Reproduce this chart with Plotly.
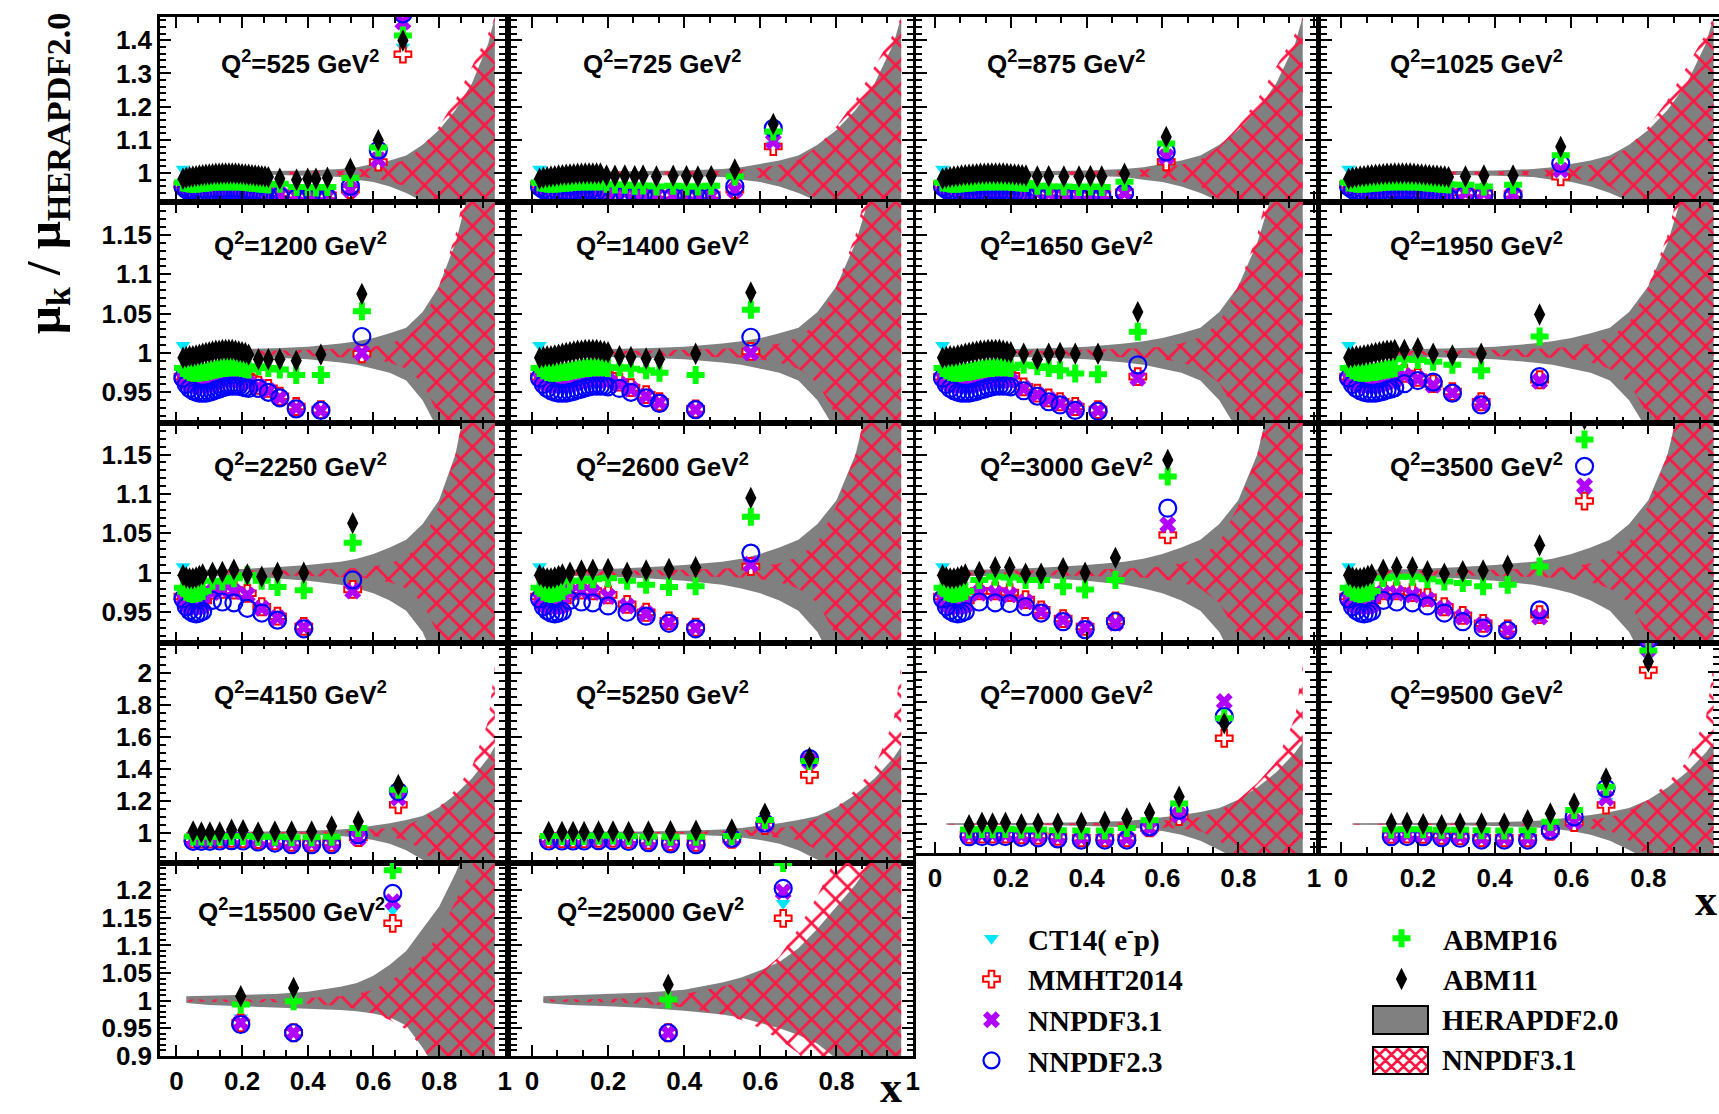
import plotly.graph_objects as go

W, H = 1719, 1114

# ---------------- data: x positions and ratios per Q^2 panel ----------------
Q2_LABELS = ["525", "725", "875", "1025", "1200", "1400", "1650", "1950",
             "2250", "2600", "3000", "3500", "4150", "5250", "7000", "9500",
             "15500", "25000"]

# dense low-x points, rows Q2 = 525..1025
DX_R1 = [0.02, 0.03, 0.04, 0.05, 0.06, 0.07, 0.08, 0.09, 0.10, 0.11, 0.12, 0.13, 0.14, 0.15,
         0.16, 0.17, 0.18, 0.19, 0.20, 0.21, 0.22, 0.23, 0.24, 0.25, 0.26, 0.27, 0.28]
DAB_R1 = [0.983, 0.986, 0.988, 0.990, 0.991, 0.993, 0.994, 0.995, 0.996, 0.997, 0.998, 0.998, 0.999, 0.999,
          0.999, 0.999, 0.999, 0.998, 0.997, 0.996, 0.995, 0.994, 0.993, 0.992, 0.991, 0.990, 0.988]
DAP_R1 = [0.972, 0.970, 0.968, 0.968, 0.968, 0.969, 0.970, 0.971, 0.972, 0.973, 0.974, 0.975, 0.975, 0.975,
          0.975, 0.975, 0.975, 0.975, 0.974, 0.973, 0.972, 0.971, 0.970, 0.969, 0.968, 0.967, 0.966]
DN31_R1 = [0.960, 0.955, 0.952, 0.950, 0.948, 0.947, 0.947, 0.947, 0.948, 0.949, 0.950, 0.951, 0.952, 0.952,
           0.952, 0.952, 0.951, 0.950, 0.949, 0.948, 0.946, 0.944, 0.942, 0.940, 0.938, 0.936, 0.934]
DN23_R1 = [0.958, 0.950, 0.945, 0.942, 0.940, 0.939, 0.938, 0.938, 0.939, 0.940, 0.941, 0.942, 0.943, 0.944,
           0.944, 0.944, 0.943, 0.942, 0.941, 0.940, 0.938, 0.936, 0.934, 0.932, 0.930, 0.928, 0.926]
DMM_R1 = [0.965, 0.961, 0.958, 0.956, 0.955, 0.955, 0.955, 0.956, 0.957, 0.958, 0.959, 0.960, 0.960, 0.960,
          0.960, 0.960, 0.959, 0.958, 0.957, 0.956, 0.954, 0.952, 0.950, 0.948, 0.946, 0.944, 0.942]
DCT_R1 = [1.012, 1.000, 0.990, 0.982, 0.975, 0.971, 0.968, 0.966, 0.965, 0.965, 0.965, 0.966, 0.966, 0.967,
          0.967, 0.967, 0.966, 0.965, 0.964, 0.963, 0.961, 0.959, 0.958, 0.956, 0.955, 0.952, 0.950]

# dense low-x points, rows Q2 = 1200..1950
DX_R2 = [0.02, 0.03, 0.04, 0.05, 0.06, 0.07, 0.08, 0.09, 0.10, 0.11, 0.12, 0.13, 0.14, 0.15,
         0.16, 0.17, 0.18, 0.19, 0.20, 0.21, 0.22]
DAB_R2 = [0.994, 0.995, 0.996, 0.996, 0.997, 0.998, 0.999, 1.000, 1.001, 1.002, 1.003, 1.003, 1.004, 1.004,
          1.004, 1.004, 1.003, 1.002, 1.001, 1.000, 0.998]
DAP_R2 = [0.981, 0.978, 0.976, 0.975, 0.975, 0.975, 0.976, 0.976, 0.977, 0.978, 0.979, 0.980, 0.981, 0.981,
          0.982, 0.982, 0.982, 0.982, 0.981, 0.980, 0.979]
DN31_R2 = [0.968, 0.964, 0.961, 0.959, 0.958, 0.958, 0.958, 0.959, 0.960, 0.961, 0.963, 0.964, 0.966, 0.966,
           0.967, 0.967, 0.966, 0.965, 0.964, 0.963, 0.961]
DN23_R2 = [0.968, 0.960, 0.955, 0.952, 0.950, 0.949, 0.949, 0.949, 0.950, 0.951, 0.953, 0.954, 0.956, 0.957,
           0.958, 0.958, 0.958, 0.958, 0.957, 0.956, 0.955]
DMM_R2 = [0.970, 0.968, 0.966, 0.965, 0.964, 0.964, 0.965, 0.966, 0.967, 0.968, 0.970, 0.971, 0.973, 0.973,
          0.974, 0.974, 0.973, 0.972, 0.971, 0.970, 0.968]
DCT_R2 = [1.010, 0.995, 0.985, 0.978, 0.972, 0.970, 0.968, 0.968, 0.968, 0.969, 0.970, 0.971, 0.972, 0.973,
          0.973, 0.973, 0.972, 0.971, 0.970, 0.969, 0.967]

# dense low-x points, rows Q2 = 2250..3500
DX_R3 = [0.02, 0.03, 0.04, 0.05, 0.06, 0.07, 0.08]
DAB_R3 = [0.997, 0.994, 0.993, 0.993, 0.994, 0.996, 0.998]
DAP_R3 = [0.981, 0.976, 0.974, 0.973, 0.974, 0.975, 0.977]
DN31_R3 = [0.967, 0.961, 0.958, 0.956, 0.956, 0.957, 0.959]
DN23_R3 = [0.967, 0.957, 0.952, 0.949, 0.948, 0.949, 0.951]
DMM_R3 = [0.970, 0.966, 0.963, 0.962, 0.962, 0.963, 0.965]
DCT_R3 = [1.008, 0.990, 0.975, 0.968, 0.966, 0.966, 0.967]

# number of dense points shown in each panel (rows 1-3)
N_DENSE = {"525": 27, "725": 17, "875": 23, "1025": 27,
           "1200": 21, "1400": 19, "1650": 19, "1950": 13,
           "2250": 7, "2600": 7, "3000": 7, "3500": 7}

# higher-x points of every panel
X_525 = [0.315, 0.366, 0.40, 0.425, 0.46, 0.53, 0.615, 0.69]
CT_525 = [0.940, 0.934, 0.932, 0.932, 0.932, 0.940, 1.040, 1.380]
MM_525 = [0.940, 0.935, 0.933, 0.933, 0.933, 0.950, 1.033, 1.358]
N31_525 = [0.936, 0.932, 0.930, 0.930, 0.930, 0.950, 1.040, 1.455]
N23_525 = [0.930, 0.925, 0.925, 0.926, 0.926, 0.960, 1.069, 1.479]
AP_525 = [0.968, 0.958, 0.958, 0.957, 0.958, 0.985, 1.077, 1.414]
AB_525 = [0.983, 0.980, 0.983, 0.983, 0.986, 1.013, 1.099, 1.399]

X_725 = [0.196, 0.218, 0.244, 0.27, 0.292, 0.327, 0.371, 0.406, 0.436, 0.471, 0.533, 0.634]
CT_725 = [0.947, 0.945, 0.942, 0.939, 0.938, 0.936, 0.934, 0.934, 0.933, 0.933, 0.945, 1.085]
MM_725 = [0.948, 0.946, 0.943, 0.940, 0.939, 0.937, 0.935, 0.935, 0.934, 0.934, 0.950, 1.080]
N31_725 = [0.945, 0.943, 0.940, 0.938, 0.937, 0.935, 0.933, 0.933, 0.932, 0.932, 0.948, 1.095]
N23_725 = [0.940, 0.938, 0.936, 0.934, 0.933, 0.930, 0.929, 0.929, 0.928, 0.928, 0.960, 1.135]
AP_725 = [0.968, 0.966, 0.965, 0.962, 0.963, 0.960, 0.962, 0.960, 0.960, 0.962, 0.990, 1.125]
AB_725 = [0.993, 0.992, 0.993, 0.991, 0.993, 0.990, 0.992, 0.991, 0.990, 0.991, 1.011, 1.148]

X_875 = [0.27, 0.30, 0.34, 0.38, 0.41, 0.44, 0.50, 0.61]
CT_875 = [0.941, 0.939, 0.937, 0.936, 0.936, 0.935, 0.938, 1.040]
MM_875 = [0.942, 0.940, 0.938, 0.937, 0.937, 0.936, 0.942, 1.034]
N31_875 = [0.940, 0.938, 0.936, 0.935, 0.935, 0.934, 0.940, 1.049]
N23_875 = [0.936, 0.933, 0.931, 0.930, 0.930, 0.930, 0.940, 1.064]
AP_875 = [0.962, 0.960, 0.960, 0.958, 0.960, 0.958, 0.974, 1.089]
AB_875 = [0.990, 0.991, 0.990, 0.990, 0.991, 0.990, 0.998, 1.109]

X_1025 = [0.324, 0.372, 0.448, 0.572]
CT_1025 = [0.941, 0.940, 0.936, 0.990]
MM_1025 = [0.942, 0.941, 0.937, 0.989]
N31_1025 = [0.940, 0.940, 0.936, 1.009]
N23_1025 = [0.936, 0.934, 0.930, 1.029]
AP_1025 = [0.965, 0.960, 0.965, 1.054]
AB_1025 = [0.990, 0.993, 0.993, 1.079]

X_1200 = [0.25, 0.28, 0.315, 0.365, 0.44, 0.565]
CT_1200 = [0.958, 0.953, 0.944, 0.931, 0.926, 0.997]
MM_1200 = [0.959, 0.955, 0.945, 0.932, 0.928, 0.999]
N31_1200 = [0.957, 0.952, 0.943, 0.930, 0.927, 1.000]
N23_1200 = [0.955, 0.950, 0.943, 0.929, 0.927, 1.021]
AP_1200 = [0.983, 0.981, 0.979, 0.972, 0.972, 1.053]
AB_1200 = [0.992, 0.992, 0.992, 0.990, 0.998, 1.075]

X_1400 = [0.23, 0.26, 0.30, 0.335, 0.43, 0.575]
CT_1400 = [0.962, 0.955, 0.946, 0.937, 0.928, 1.000]
MM_1400 = [0.963, 0.956, 0.947, 0.938, 0.929, 1.002]
N31_1400 = [0.960, 0.954, 0.945, 0.937, 0.928, 1.000]
N23_1400 = [0.955, 0.950, 0.943, 0.936, 0.928, 1.020]
AP_1400 = [0.982, 0.980, 0.978, 0.975, 0.972, 1.055]
AB_1400 = [0.996, 0.995, 0.993, 0.992, 0.999, 1.077]

X_1650 = [0.234, 0.27, 0.30, 0.33, 0.37, 0.43, 0.535]
CT_1650 = [0.956, 0.948, 0.942, 0.937, 0.931, 0.926, 0.966]
MM_1650 = [0.957, 0.949, 0.943, 0.938, 0.932, 0.928, 0.970]
N31_1650 = [0.955, 0.947, 0.941, 0.936, 0.930, 0.927, 0.968]
N23_1650 = [0.952, 0.945, 0.938, 0.934, 0.927, 0.926, 0.985]
AP_1650 = [0.985, 0.983, 0.981, 0.978, 0.974, 0.973, 1.027]
AB_1650 = [0.999, 0.992, 0.999, 1.000, 0.999, 0.999, 1.052]

X_1950 = [0.165, 0.20, 0.24, 0.29, 0.365, 0.517]
CT_1950 = [0.972, 0.968, 0.960, 0.950, 0.937, 0.962]
MM_1950 = [0.974, 0.969, 0.961, 0.951, 0.938, 0.966]
N31_1950 = [0.971, 0.967, 0.959, 0.949, 0.936, 0.964]
N23_1950 = [0.961, 0.965, 0.963, 0.949, 0.934, 0.970]
AP_1950 = [0.992, 0.991, 0.989, 0.985, 0.978, 1.021]
AB_1950 = [1.004, 1.006, 0.999, 0.997, 0.999, 1.049]

X_2250 = [0.11, 0.14, 0.175, 0.216, 0.26, 0.308, 0.388, 0.537]
CT_2250 = [0.977, 0.978, 0.977, 0.973, 0.956, 0.944, 0.930, 0.975]
MM_2250 = [0.978, 0.979, 0.978, 0.974, 0.957, 0.945, 0.932, 0.979]
N31_2250 = [0.975, 0.977, 0.976, 0.972, 0.955, 0.943, 0.931, 0.977]
N23_2250 = [0.965, 0.963, 0.962, 0.955, 0.949, 0.940, 0.929, 0.991]
AP_2250 = [0.990, 0.989, 0.993, 0.997, 0.990, 0.982, 0.978, 1.038]
AB_2250 = [1.000, 1.001, 1.004, 0.998, 0.995, 1.000, 1.000, 1.063]

X_2600 = [0.10, 0.13, 0.16, 0.20, 0.25, 0.30, 0.36, 0.43, 0.575]
CT_2600 = [0.977, 0.977, 0.976, 0.971, 0.959, 0.949, 0.938, 0.930, 1.005]
MM_2600 = [0.978, 0.978, 0.977, 0.972, 0.960, 0.950, 0.939, 0.931, 1.008]
N31_2600 = [0.975, 0.976, 0.975, 0.970, 0.958, 0.948, 0.937, 0.930, 1.011]
N23_2600 = [0.965, 0.963, 0.962, 0.958, 0.950, 0.945, 0.936, 0.929, 1.025]
AP_2600 = [0.990, 0.990, 0.992, 0.993, 0.990, 0.985, 0.982, 0.983, 1.071]
AB_2600 = [1.000, 1.003, 1.004, 1.005, 1.000, 1.003, 1.005, 1.007, 1.095]

X_3000 = [0.117, 0.159, 0.197, 0.239, 0.28, 0.338, 0.396, 0.476, 0.614]
CT_3000 = [0.976, 0.976, 0.974, 0.965, 0.952, 0.941, 0.931, 0.937, 1.050]
MM_3000 = [0.977, 0.977, 0.975, 0.966, 0.953, 0.942, 0.932, 0.939, 1.048]
N31_3000 = [0.974, 0.974, 0.972, 0.963, 0.951, 0.940, 0.930, 0.936, 1.061]
N23_3000 = [0.963, 0.962, 0.961, 0.957, 0.949, 0.938, 0.928, 0.938, 1.082]
AP_3000 = [0.991, 0.995, 0.994, 0.991, 0.991, 0.983, 0.979, 0.991, 1.122]
AB_3000 = [1.001, 1.007, 1.007, 0.999, 0.999, 1.006, 1.000, 1.019, 1.143]

X_3500 = [0.11, 0.145, 0.186, 0.225, 0.269, 0.317, 0.37, 0.434, 0.517, 0.634]
CT_3500 = [0.976, 0.976, 0.974, 0.968, 0.956, 0.945, 0.935, 0.928, 0.945, 1.100]
MM_3500 = [0.977, 0.977, 0.975, 0.969, 0.957, 0.946, 0.936, 0.929, 0.947, 1.091]
N31_3500 = [0.974, 0.974, 0.972, 0.966, 0.955, 0.944, 0.934, 0.927, 0.944, 1.110]
N23_3500 = [0.965, 0.963, 0.962, 0.958, 0.949, 0.938, 0.930, 0.927, 0.953, 1.135]
AP_3500 = [0.993, 0.995, 0.995, 0.992, 0.989, 0.987, 0.983, 0.985, 1.008, 1.169]
AB_3500 = [1.004, 1.007, 1.007, 1.002, 0.999, 1.002, 1.003, 1.009, 1.035, 1.195]

X_4150 = [0.051, 0.076, 0.102, 0.132, 0.168, 0.203, 0.249, 0.30, 0.351, 0.412, 0.473, 0.554, 0.676]
CT_4150 = [0.958, 0.958, 0.958, 0.960, 0.962, 0.960, 0.954, 0.947, 0.937, 0.937, 0.937, 0.968, 1.220]
MM_4150 = [0.960, 0.960, 0.960, 0.962, 0.964, 0.962, 0.956, 0.949, 0.939, 0.939, 0.939, 0.970, 1.175]
N31_4150 = [0.956, 0.956, 0.956, 0.958, 0.960, 0.958, 0.952, 0.945, 0.935, 0.935, 0.935, 0.966, 1.217]
N23_4150 = [0.946, 0.946, 0.946, 0.948, 0.950, 0.948, 0.942, 0.935, 0.925, 0.925, 0.925, 0.987, 1.258]
AP_4150 = [0.977, 0.977, 0.977, 0.977, 0.980, 0.980, 0.975, 0.975, 0.972, 0.972, 0.975, 1.029, 1.269]
AB_4150 = [1.008, 1.002, 1.002, 1.002, 1.019, 1.015, 1.002, 1.008, 1.008, 1.008, 1.040, 1.071, 1.300]

X_5250 = [0.044, 0.079, 0.108, 0.137, 0.175, 0.213, 0.254, 0.306, 0.364, 0.431, 0.525, 0.612, 0.729]
CT_5250 = [0.960, 0.960, 0.960, 0.960, 0.962, 0.962, 0.957, 0.950, 0.942, 0.937, 0.956, 1.048, 1.440]
MM_5250 = [0.962, 0.962, 0.962, 0.962, 0.964, 0.964, 0.959, 0.952, 0.944, 0.939, 0.958, 1.045, 1.363]
N31_5250 = [0.958, 0.958, 0.958, 0.958, 0.960, 0.960, 0.955, 0.948, 0.940, 0.935, 0.955, 1.050, 1.450]
N23_5250 = [0.948, 0.948, 0.948, 0.948, 0.950, 0.950, 0.945, 0.938, 0.930, 0.925, 0.965, 1.060, 1.465]
AP_5250 = [0.980, 0.980, 0.980, 0.980, 0.982, 0.982, 0.978, 0.976, 0.975, 0.975, 0.980, 1.080, 1.450]
AB_5250 = [1.005, 1.005, 1.005, 1.005, 1.008, 1.008, 1.005, 1.008, 1.010, 1.012, 1.020, 1.120, 1.470]

X_7000 = [0.09, 0.124, 0.152, 0.186, 0.228, 0.272, 0.324, 0.386, 0.448, 0.506, 0.566, 0.644, 0.763]
CT_7000 = [0.930, 0.932, 0.932, 0.932, 0.927, 0.924, 0.917, 0.908, 0.908, 0.908, 0.973, 1.055, 1.680]
MM_7000 = [0.932, 0.934, 0.934, 0.934, 0.929, 0.926, 0.919, 0.910, 0.910, 0.910, 0.975, 1.050, 1.564]
N31_7000 = [0.928, 0.930, 0.930, 0.930, 0.925, 0.922, 0.915, 0.906, 0.906, 0.906, 0.971, 1.059, 1.805]
N23_7000 = [0.917, 0.918, 0.918, 0.918, 0.913, 0.910, 0.903, 0.895, 0.895, 0.895, 0.982, 1.092, 1.706]
AP_7000 = [0.965, 0.967, 0.966, 0.968, 0.965, 0.965, 0.960, 0.958, 0.958, 0.975, 1.026, 1.136, 1.695]
AB_7000 = [0.993, 1.009, 1.004, 1.009, 1.000, 1.004, 1.004, 1.009, 1.015, 1.037, 1.074, 1.180, 1.662]

X_9500 = [0.131, 0.172, 0.214, 0.262, 0.31, 0.366, 0.425, 0.486, 0.545, 0.607, 0.69, 0.80]
CT_9500 = [0.930, 0.932, 0.930, 0.924, 0.920, 0.908, 0.908, 0.908, 0.951, 1.012, 1.150, 2.100]
MM_9500 = [0.932, 0.934, 0.932, 0.926, 0.922, 0.910, 0.910, 0.910, 0.953, 1.010, 1.125, 2.013]
N31_9500 = [0.928, 0.930, 0.928, 0.922, 0.918, 0.906, 0.906, 0.906, 0.950, 1.015, 1.169, 2.150]
N23_9500 = [0.917, 0.918, 0.917, 0.911, 0.907, 0.895, 0.895, 0.895, 0.960, 1.048, 1.235, 2.210]
AP_9500 = [0.965, 0.966, 0.966, 0.962, 0.962, 0.960, 0.958, 0.960, 1.015, 1.092, 1.246, 2.140]
AB_9500 = [1.004, 1.009, 1.000, 0.993, 1.004, 1.004, 1.004, 1.026, 1.070, 1.136, 1.300, 2.068]

X_15500 = [0.196, 0.357, 0.659]
CT_15500 = [0.969, 0.942, 1.164]
MM_15500 = [0.960, 0.942, 1.140]
N31_15500 = [0.960, 0.942, 1.179]
N23_15500 = [0.957, 0.942, 1.194]
AP_15500 = [0.993, 0.999, 1.236]
AB_15500 = [1.008, 1.023, 1.270]

X_25000 = [0.358, 0.66]
CT_25000 = [0.942, 1.176]
MM_25000 = [0.942, 1.149]
N31_25000 = [0.942, 1.197]
N23_25000 = [0.942, 1.203]
AP_25000 = [1.002, 1.249]
AB_25000 = [1.029, 1.280]

# ---------------- uncertainty bands (HERAPDF2.0 and NNPDF3.1) ----------------
BAND_X = [0.03, 0.1, 0.2, 0.3, 0.4, 0.5, 0.55, 0.6, 0.65, 0.7, 0.75, 0.8, 0.85, 0.9, 0.95, 0.97]

HERA_HI_R1 = [1.004, 1.004, 1.005, 1.006, 1.008, 1.012, 1.018, 1.027, 1.038, 1.053, 1.085, 1.13, 1.19, 1.27, 1.39, 1.47]
HERA_LO_R1 = [0.996, 0.996, 0.995, 0.994, 0.992, 0.988, 0.980, 0.973, 0.960, 0.940, 0.915, 0.88, 0.85, 0.8, 0.75, 0.7]
NN_HI_R1 = [1.003, 1.003, 1.003, 1.004, 1.005, 1.007, 1.010, 1.015, 1.025, 1.040, 1.08, 1.14, 1.22, 1.32, 1.42, 1.47]
NN_LO_R1 = [0.997, 0.997, 0.997, 0.996, 0.995, 0.993, 0.990, 0.985, 0.975, 0.960, 0.92, 0.85, 0.76, 0.66, 0.58, 0.53]

HERA_HI_R2 = [1.004, 1.004, 1.005, 1.006, 1.008, 1.012, 1.015, 1.019, 1.025, 1.032, 1.052, 1.085, 1.14, 1.22, 1.35, 1.4]
HERA_LO_R2 = [0.996, 0.996, 0.995, 0.994, 0.992, 0.988, 0.985, 0.980, 0.975, 0.965, 0.940, 0.90, 0.84, 0.78, 0.72, 0.7]
NN_HI_R2 = [1.003, 1.003, 1.003, 1.003, 1.004, 1.005, 1.006, 1.008, 1.012, 1.02, 1.038, 1.085, 1.15, 1.25, 1.35, 1.4]
NN_LO_R2 = [0.997, 0.997, 0.997, 0.997, 0.996, 0.995, 0.994, 0.992, 0.988, 0.98, 0.962, 0.92, 0.85, 0.75, 0.65, 0.6]

HERA_HI_R3 = [1.004, 1.004, 1.005, 1.007, 1.010, 1.014, 1.018, 1.024, 1.032, 1.042, 1.062, 1.092, 1.15, 1.24, 1.35, 1.4]
HERA_LO_R3 = [0.996, 0.996, 0.995, 0.993, 0.990, 0.985, 0.980, 0.974, 0.965, 0.952, 0.925, 0.88, 0.83, 0.77, 0.72, 0.7]
NN_HI_R3 = [1.003, 1.003, 1.003, 1.003, 1.004, 1.005, 1.006, 1.008, 1.012, 1.02, 1.038, 1.085, 1.15, 1.25, 1.35, 1.4]
NN_LO_R3 = [0.997, 0.997, 0.997, 0.997, 0.996, 0.995, 0.994, 0.992, 0.988, 0.98, 0.962, 0.92, 0.85, 0.75, 0.65, 0.6]

HERA_HI_R4 = [1.005, 1.005, 1.006, 1.008, 1.012, 1.02, 1.03, 1.045, 1.06, 1.08, 1.105, 1.16, 1.24, 1.34, 1.47, 1.54]
HERA_LO_R4 = [0.995, 0.995, 0.994, 0.992, 0.988, 0.98, 0.97, 0.955, 0.93, 0.89, 0.83, 0.76, 0.7, 0.6, 0.5, 0.45]
NN_HI_R4 = [1.003, 1.003, 1.003, 1.004, 1.006, 1.01, 1.015, 1.022, 1.03, 1.045, 1.09, 1.16, 1.27, 1.41, 1.7, 2.05]
NN_LO_R4 = [0.997, 0.997, 0.997, 0.996, 0.994, 0.99, 0.985, 0.978, 0.97, 0.955, 0.89, 0.79, 0.7, 0.6, 0.5, 0.45]

HERA_HI_R5A = [1.008, 1.009, 1.010, 1.012, 1.016, 1.025, 1.032, 1.045, 1.065, 1.09, 1.13, 1.17, 1.23, 1.3, 1.4, 1.45]
HERA_LO_R5A = [0.996, 0.992, 0.990, 0.988, 0.986, 0.983, 0.981, 0.977, 0.970, 0.955, 0.915, 0.87, 0.82, 0.75, 0.7, 0.65]
NN_HI_R5A = [1.002, 1.002, 1.002, 1.003, 1.005, 1.008, 1.012, 1.02, 1.035, 1.055, 1.08, 1.12, 1.18, 1.24, 1.35, 1.4]
NN_LO_R5A = [0.998, 0.998, 0.998, 0.997, 0.995, 0.990, 0.985, 0.977, 0.965, 0.948, 0.915, 0.87, 0.8, 0.7, 0.6, 0.55]

HERA_HI_R5B = [1.008, 1.010, 1.012, 1.015, 1.020, 1.033, 1.042, 1.055, 1.07, 1.095, 1.13, 1.17, 1.21, 1.26, 1.35, 1.4]
HERA_LO_R5B = [0.996, 0.992, 0.990, 0.987, 0.982, 0.975, 0.969, 0.960, 0.950, 0.938, 0.922, 0.895, 0.86, 0.8, 0.75, 0.7]
NN_HI_R5B = [1.002, 1.002, 1.003, 1.006, 1.012, 1.025, 1.035, 1.05, 1.08, 1.13, 1.19, 1.26, 1.35, 1.45, 1.55, 1.6]
NN_LO_R5B = [0.998, 0.998, 0.997, 0.994, 0.988, 0.975, 0.965, 0.950, 0.930, 0.905, 0.86, 0.8, 0.72, 0.62, 0.55, 0.5]

# ---------------- styling ----------------
C_CT = "#00e5ff"
C_MM = "#ff0000"
C_N31 = "#b000ff"
C_N23 = "#0000ff"
C_AP = "#00ff00"
C_AB = "#000000"
C_GRAY = "#808080"
C_HATCH = "#ff1744"

SANS = "Liberation Sans, Arial, Helvetica, sans-serif"
SERIF = "Liberation Serif, Times New Roman, serif"

DENSE = {
    1: (DX_R1, DCT_R1, DMM_R1, DN31_R1, DN23_R1, DAP_R1, DAB_R1),
    2: (DX_R2, DCT_R2, DMM_R2, DN31_R2, DN23_R2, DAP_R2, DAB_R2),
    3: (DX_R3, DCT_R3, DMM_R3, DN31_R3, DN23_R3, DAP_R3, DAB_R3),
}

PANEL_DATA = {
    "525": (X_525, CT_525, MM_525, N31_525, N23_525, AP_525, AB_525),
    "725": (X_725, CT_725, MM_725, N31_725, N23_725, AP_725, AB_725),
    "875": (X_875, CT_875, MM_875, N31_875, N23_875, AP_875, AB_875),
    "1025": (X_1025, CT_1025, MM_1025, N31_1025, N23_1025, AP_1025, AB_1025),
    "1200": (X_1200, CT_1200, MM_1200, N31_1200, N23_1200, AP_1200, AB_1200),
    "1400": (X_1400, CT_1400, MM_1400, N31_1400, N23_1400, AP_1400, AB_1400),
    "1650": (X_1650, CT_1650, MM_1650, N31_1650, N23_1650, AP_1650, AB_1650),
    "1950": (X_1950, CT_1950, MM_1950, N31_1950, N23_1950, AP_1950, AB_1950),
    "2250": (X_2250, CT_2250, MM_2250, N31_2250, N23_2250, AP_2250, AB_2250),
    "2600": (X_2600, CT_2600, MM_2600, N31_2600, N23_2600, AP_2600, AB_2600),
    "3000": (X_3000, CT_3000, MM_3000, N31_3000, N23_3000, AP_3000, AB_3000),
    "3500": (X_3500, CT_3500, MM_3500, N31_3500, N23_3500, AP_3500, AB_3500),
    "4150": (X_4150, CT_4150, MM_4150, N31_4150, N23_4150, AP_4150, AB_4150),
    "5250": (X_5250, CT_5250, MM_5250, N31_5250, N23_5250, AP_5250, AB_5250),
    "7000": (X_7000, CT_7000, MM_7000, N31_7000, N23_7000, AP_7000, AB_7000),
    "9500": (X_9500, CT_9500, MM_9500, N31_9500, N23_9500, AP_9500, AB_9500),
    "15500": (X_15500, CT_15500, MM_15500, N31_15500, N23_15500, AP_15500, AB_15500),
    "25000": (X_25000, CT_25000, MM_25000, N31_25000, N23_25000, AP_25000, AB_25000),
}

BANDS = {
    "R1": (HERA_LO_R1, HERA_HI_R1, NN_LO_R1, NN_HI_R1),
    "R2": (HERA_LO_R2, HERA_HI_R2, NN_LO_R2, NN_HI_R2),
    "R3": (HERA_LO_R3, HERA_HI_R3, NN_LO_R3, NN_HI_R3),
    "R4": (HERA_LO_R4, HERA_HI_R4, NN_LO_R4, NN_HI_R4),
    "R5A": (HERA_LO_R5A, HERA_HI_R5A, NN_LO_R5A, NN_HI_R5A),
    "R5B": (HERA_LO_R5B, HERA_HI_R5B, NN_LO_R5B, NN_HI_R5B),
}
ROW_BAND = ["R1", "R2", "R3", "R4"]

SERIES = [
    ("CT14( e<sup>-</sup>p)", dict(symbol="triangle-down", size=13, color=C_CT, line=dict(width=0)), "legend", 1),
    ("MMHT2014", dict(symbol="cross", size=14, color="white", line=dict(color=C_MM, width=2)), "legend", 2),
    ("NNPDF3.1", dict(symbol="x", size=15, color=C_N31, line=dict(width=0)), "legend", 3),
    ("NNPDF2.3", dict(symbol="circle-open", size=17, color=C_N23, line=dict(color=C_N23, width=2.2)), "legend", 4),
    ("ABMP16", dict(symbol="cross", size=15, color=C_AP, line=dict(width=0)), "legend2", 1),
    ("ABM11", dict(symbol="diamond-tall", size=16, color=C_AB, line=dict(width=0)), "legend2", 2),
]

# ---------------- geometry (pixels) ----------------
COL_PX = [(160, 505), (511, 913), (916, 1316), (1321, 1719)]
COL_XR = [[-0.05, 1.001], [-0.055, 1.001], [-0.05, 1.005], [-0.052, 0.984]]
ROW_PX = [(17, 202), (202, 423), (423, 643), (643, 863), (863, 1056)]
ROW_YR = [[0.913, 1.47], [0.911, 1.192], [0.911, 1.19], [0.81, 2.19], [0.9, 1.249]]
ROW_DT = [0.1, 0.05, 0.05, 0.2, 0.05]
ROW_MINOR = [0.02, 0.01, 0.01, 0.05, 0.01]
LABEL_DX = [140, 151, 150, 155]
LABEL_DY = [46, 43, 42, 50, 47]

fig = go.Figure()
layout_axes = {}

for i, q2 in enumerate(Q2_LABELS):
    r, c = divmod(i, 4)
    n = i + 1
    xa, ya = ("x" if n == 1 else f"x{n}"), ("y" if n == 1 else f"y{n}")
    x0, x1 = COL_PX[c]
    y0, y1 = ROW_PX[r]
    if r == 3 and c >= 2:
        y1 = 853
    if r == 4:
        band = "R5A" if c == 0 else "R5B"
    else:
        band = ROW_BAND[r]
    lo_h, hi_h, lo_n, hi_n = BANDS[band]

    # HERAPDF2.0 band
    fig.add_trace(go.Scatter(x=BAND_X, y=lo_h, mode="lines", line=dict(width=0, color=C_GRAY),
                             xaxis=xa, yaxis=ya, showlegend=False, hoverinfo="skip"))
    fig.add_trace(go.Scatter(x=BAND_X, y=hi_h, mode="lines", line=dict(width=0, color=C_GRAY),
                             fill="tonexty", fillcolor=C_GRAY, xaxis=xa, yaxis=ya,
                             name="HERAPDF2.0", showlegend=False, hoverinfo="skip"))
    # NNPDF3.1 hatched band
    fig.add_trace(go.Scatter(x=BAND_X, y=lo_n, mode="lines", line=dict(width=0, color=C_HATCH),
                             xaxis=xa, yaxis=ya, showlegend=False, hoverinfo="skip"))
    fig.add_trace(go.Scatter(x=BAND_X, y=hi_n, mode="lines", line=dict(width=0, color=C_HATCH),
                             fill="tonexty", fillcolor="rgba(0,0,0,0)",
                             fillpattern=dict(shape="x", fgcolor=C_HATCH, bgcolor="rgba(0,0,0,0)",
                                              fgopacity=1, size=17, solidity=0.3),
                             xaxis=xa, yaxis=ya, name="NNPDF3.1 band", showlegend=False, hoverinfo="skip"))

    pdata = PANEL_DATA[q2]
    if q2 in N_DENSE:
        dense = DENSE[r + 1]
        nd = N_DENSE[q2]
        xs = dense[0][:nd] + pdata[0]
        ys_all = [dense[k][:nd] + pdata[k] for k in range(1, 7)]
    else:
        xs = pdata[0]
        ys_all = list(pdata[1:])
    for (name, mk, leg, rank), ys in zip(SERIES, ys_all):
        fig.add_trace(go.Scatter(x=xs, y=ys, mode="markers", marker=mk, xaxis=xa, yaxis=ya,
                                 name=name, showlegend=(i == 0), legend=leg, legendrank=rank,
                                 legendgroup=name))

    show_xl = (r == 4) or (r == 3 and c >= 2)
    layout_axes["xaxis" if n == 1 else f"xaxis{n}"] = dict(
        domain=[x0 / W, x1 / W], range=COL_XR[c], anchor=ya,
        showgrid=False, zeroline=False, showline=True, linecolor="black", linewidth=2.5, mirror="ticks",
        ticks="inside", ticklen=11, tickwidth=2, tickcolor="black", tick0=0, dtick=0.2,
        minor=dict(ticks="inside", ticklen=6, tickwidth=1.5, tickcolor="black", dtick=0.2 / 3, tick0=0),
        showticklabels=show_xl,
        tickfont=dict(family=SANS, size=26, color="black", weight="bold"),
    )
    layout_axes["yaxis" if n == 1 else f"yaxis{n}"] = dict(
        domain=[1 - y1 / H, 1 - y0 / H], range=ROW_YR[r], anchor=xa,
        showgrid=False, zeroline=False, showline=True, linecolor="black", linewidth=2.5, mirror="ticks",
        ticks="inside", ticklen=11, tickwidth=2, tickcolor="black", tick0=1, dtick=ROW_DT[r],
        minor=dict(ticks="inside", ticklen=6, tickwidth=1.5, tickcolor="black", dtick=ROW_MINOR[r], tick0=1),
        showticklabels=(c == 0),
        tickfont=dict(family=SANS, size=26, color="black", weight="bold"),
    )

annotations = []
for i, q2 in enumerate(Q2_LABELS):
    r, c = divmod(i, 4)
    x0, _ = COL_PX[c]
    y0, _ = ROW_PX[r]
    dx = LABEL_DX[c] if r < 4 else (131 if c == 0 else 139)
    annotations.append(dict(
        x=(x0 + dx) / W, y=1 - (y0 + LABEL_DY[r]) / H, xref="paper", yref="paper",
        text=f"Q<sup>2</sup>={q2} GeV<sup>2</sup>", showarrow=False, xanchor="center", yanchor="middle",
        font=dict(family=SANS, size=26, color="black", weight="bold")))

annotations.append(dict(
    x=47 / W, y=1 - 174 / H, xref="paper", yref="paper", textangle=-90,
    xanchor="center", yanchor="middle",
    text="μ<sub>k</sub> / μ<sub>HERAPDF2.0</sub>", showarrow=False,
    font=dict(family=SERIF, size=49, color="black", weight="bold")))
annotations.append(dict(
    x=904 / W, y=1 - 1114 / H, xref="paper", yref="paper", text="x", showarrow=False,
    xanchor="right", yanchor="bottom", font=dict(family=SERIF, size=44, color="black", weight="bold")))
annotations.append(dict(
    x=1719 / W, y=1 - 900 / H, xref="paper", yref="paper", text="x", showarrow=False,
    xanchor="right", yanchor="middle", font=dict(family=SERIF, size=44, color="black", weight="bold")))

legend_font = dict(family=SERIF, size=29, color="black", weight="bold")

# band legend keys (boxes) drawn as layout decorations next to the marker legend
BOX_X0, BOX_X1 = 1373, 1428
BOX_HERA = (1006, 1034)
BOX_NN = (1047, 1074)
shapes = [
    dict(type="rect", xref="paper", yref="paper", x0=BOX_X0 / W, x1=BOX_X1 / W,
         y0=1 - BOX_HERA[1] / H, y1=1 - BOX_HERA[0] / H, fillcolor=C_GRAY,
         line=dict(color="black", width=2)),
    dict(type="rect", xref="paper", yref="paper", x0=BOX_X0 / W, x1=BOX_X1 / W,
         y0=1 - BOX_NN[1] / H, y1=1 - BOX_NN[0] / H, fillcolor="white",
         line=dict(color="black", width=2)),
]


def hatch_segments(bx0, by0, bx1, by1, step):
    segs = []
    c = bx0 - by1
    while c <= bx1 - by0:
        ya0, ya1 = max(by0, bx0 - c), min(by1, bx1 - c)
        if ya1 > ya0:
            segs.append(((ya0 + c, ya0), (ya1 + c, ya1)))
        c += step
    c = bx0 + by0
    while c <= bx1 + by1:
        ya0, ya1 = max(by0, c - bx1), min(by1, c - bx0)
        if ya1 > ya0:
            segs.append(((c - ya0, ya0), (c - ya1, ya1)))
        c += step
    return segs


path = ""
for (ax, ay), (bx, by) in hatch_segments(BOX_X0 + 1, BOX_NN[0] + 1, BOX_X1 - 1, BOX_NN[1] - 1, 12):
    path += f"M{ax / W:.5f},{1 - ay / H:.5f} L{bx / W:.5f},{1 - by / H:.5f} "
shapes.append(dict(type="path", xref="paper", yref="paper", path=path,
                   line=dict(color=C_HATCH, width=2.5)))
shapes.append(dict(type="rect", xref="paper", yref="paper", x0=BOX_X0 / W, x1=BOX_X1 / W,
                   y0=1 - BOX_NN[1] / H, y1=1 - BOX_NN[0] / H, fillcolor="rgba(0,0,0,0)",
                   line=dict(color="black", width=2)))

annotations.append(dict(x=1440 / W, y=1 - 1020 / H, xref="paper", yref="paper", text="HERAPDF2.0",
                        showarrow=False, xanchor="left", yanchor="middle", font=legend_font))
annotations.append(dict(x=1440 / W, y=1 - 1060 / H, xref="paper", yref="paper", text="NNPDF3.1",
                        showarrow=False, xanchor="left", yanchor="middle", font=legend_font))

fig.update_layout(
    width=W, height=H, margin=dict(l=0, r=0, t=0, b=0, autoexpand=False),
    paper_bgcolor="white", plot_bgcolor="white",
    annotations=annotations, shapes=shapes,
    legend=dict(x=955 / W, y=1 - 913 / H, xanchor="left", yanchor="top", font=legend_font,
                bgcolor="rgba(0,0,0,0)", itemwidth=63, traceorder="grouped", tracegroupgap=0),
    legend2=dict(x=1360 / W, y=1 - 913 / H, xanchor="left", yanchor="top", font=legend_font,
                 bgcolor="rgba(0,0,0,0)", itemwidth=73, traceorder="grouped", tracegroupgap=0),
    **layout_axes,
)

fig.write_html("out.html", config={"displayModeBar": False},
               post_script="document.body.style.margin='0';document.body.style.overflow='hidden';")
